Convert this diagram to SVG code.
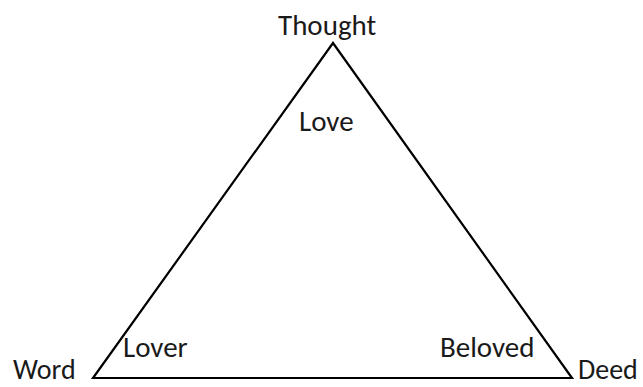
<svg xmlns="http://www.w3.org/2000/svg" width="643" height="387" viewBox="0 0 643 387">
<style>
text{font-family:Carlito,"Liberation Sans",Arial,sans-serif;font-size:29px;fill:#1a1a1a}
.corner{font-size:28px}
.edge{fill:none;stroke:#000;stroke-width:2.2;stroke-linejoin:miter}
</style>
<rect width="643" height="387" fill="#fff"/>
<g id="connectors">
<polygon class="edge" points="333,43 93,378 572,378"/>
</g>
<g id="thought"><text x="278" y="35">Thought</text></g>
<g id="love"><text x="299" y="131">Love</text></g>
<g id="word"><text class="corner" x="13" y="379">Word</text></g>
<g id="lover"><text x="123" y="357">Lover</text></g>
<g id="beloved"><text x="440" y="357">Beloved</text></g>
<g id="deed"><text class="corner" x="578" y="379">Deed</text></g>
</svg>
